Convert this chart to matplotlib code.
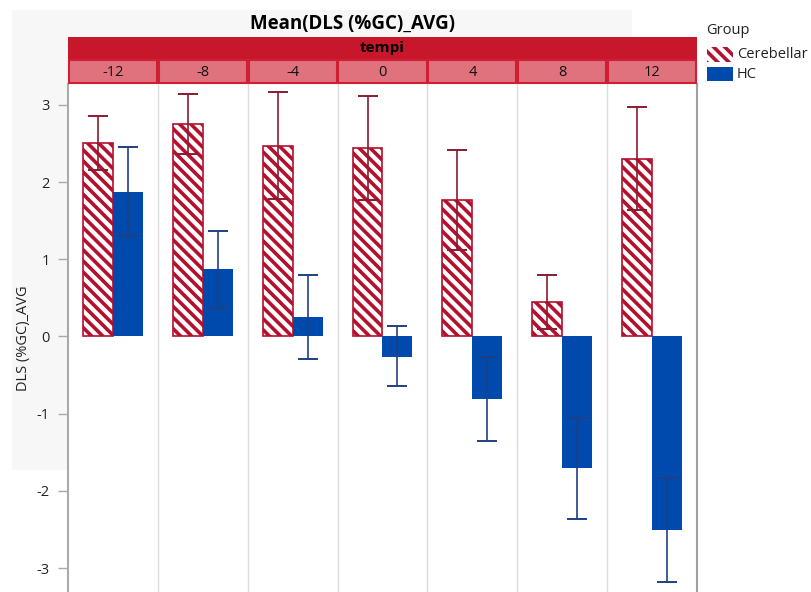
import matplotlib
matplotlib.use("Agg")
import matplotlib.pyplot as plt
from matplotlib.patches import Rectangle
import numpy as np

plt.rcParams['font.family'] = ['Open Sans', 'DejaVu Sans']
plt.rcParams['hatch.linewidth'] = 2.6

tempi = ["-12", "-8", "-4", "0", "4", "8", "12"]
groups = ["Cerebellar", "HC"]
cereb_mean = [2.51, 2.755, 2.47, 2.44, 1.77, 0.45, 2.30]
cereb_hi = [2.86, 3.14, 3.17, 3.11, 2.41, 0.80, 2.97]
cereb_lo = [2.16, 2.36, 1.78, 1.77, 1.12, 0.10, 1.64]
hc_mean = [1.87, 0.87, 0.25, -0.26, -0.81, -1.71, -2.51]
hc_hi = [2.45, 1.37, 0.80, 0.13, -0.27, -1.05, -1.83]
hc_lo = [1.30, 0.37, -0.29, -0.64, -1.35, -2.36, -3.18]
yticks = [-3, -2, -1, 0, 1, 2, 3]

W, H = 812, 592
fig = plt.figure(figsize=(W / 100, H / 100), dpi=100)

def fx(px):
    return px / W

def fy(py):
    return 1 - py / H

# light gray background panel
fig.patches.append(Rectangle((fx(12), fy(470)), fx(632) - fx(12), fy(10) - fy(470),
                             transform=fig.transFigure, facecolor="#f7f7f7",
                             edgecolor="none", zorder=-5))

axL, axR, axT, axB = 68, 697, 84, 592
ax = fig.add_axes([fx(axL), fy(axB), fx(axR) - fx(axL), fy(axT) - fy(axB)])
ax.set_zorder(1)
ax.set_facecolor("white")

red = "#b3112e"
blue = "#004aad"
n = len(tempi)
x = np.arange(n) + 0.5
w = 1 / 3
hatch = "\\\\\\"

cm = np.array(cereb_mean)
hm = np.array(hc_mean)
ax.bar(x - w / 2, cm, width=w, facecolor="white", edgecolor=red, hatch=hatch,
       linewidth=1.2, zorder=2)
ax.bar(x + w / 2, hm, width=w, facecolor=blue, edgecolor=blue, linewidth=0, zorder=2)

ax.errorbar(x - w / 2, cm, yerr=[cm - np.array(cereb_lo), np.array(cereb_hi) - cm],
            fmt="none", ecolor="#8a1a30", elinewidth=1.2, capsize=7, capthick=1.4, zorder=3)
ax.errorbar(x + w / 2, hm, yerr=[hm - np.array(hc_lo), np.array(hc_hi) - hm],
            fmt="none", ecolor="#1f3f85", elinewidth=1.2, capsize=7, capthick=1.4, zorder=3)

for i in range(1, n):
    ax.axvline(i, color="#dcdcdc", linewidth=1, zorder=1)

ax.set_xlim(0, n)
ax.set_ylim(-3.31, 3.27)
ax.set_xticks([])
ax.set_yticks(yticks)
ax.set_yticklabels([str(t) for t in yticks], fontsize=10.5, color="#222222")
ax.tick_params(axis="y", length=7, width=1, color="#aaaaaa", pad=6)
for s in ["top", "bottom"]:
    ax.spines[s].set_visible(False)
ax.spines["left"].set_color("#aaaaaa")
ax.spines["left"].set_linewidth(1.5)
ax.spines["right"].set_color("#a0a0a0")
ax.spines["right"].set_linewidth(1.5)
ax.set_ylabel("DLS (%GC)_AVG", fontsize=10.5, color="#222222", labelpad=4)

# title
fig.text(fx(352), fy(24), "Mean(DLS (%GC)_AVG)", ha="center", va="center",
         fontsize=13.5, fontweight="bold", color="black")

# header bar
fig.patches.append(Rectangle((fx(axL), fy(59)), fx(axR) - fx(axL), fy(37) - fy(59),
                             transform=fig.transFigure, facecolor="#c8172a",
                             edgecolor="none", zorder=3))
fig.text(fx((axL + axR) / 2), fy(48), "tempi", ha="center", va="center",
         fontsize=11, fontweight="bold", color="black", zorder=4)
pw = (axR - axL) / n
for i, t in enumerate(tempi):
    x0 = axL + i * pw
    fig.patches.append(Rectangle((fx(x0 + 0.8), fy(83)), fx(pw - 1.6), fy(60) - fy(83),
                                 transform=fig.transFigure, facecolor="#e0727e",
                                 edgecolor="#d01f35", linewidth=1.5, zorder=3))
    fig.text(fx(x0 + pw / 2), fy(72), t, ha="center", va="center",
             fontsize=10.5, color="#111111", zorder=4)

# legend
fig.text(fx(706), fy(30), "Group", ha="left", va="center", fontsize=10.5, color="#222222")
fig.patches.append(Rectangle((fx(707), fy(62)), fx(26), fy(47) - fy(62),
                             transform=fig.transFigure, facecolor="white",
                             edgecolor=red, hatch=hatch, linewidth=0.0, zorder=3))
fig.text(fx(737), fy(55), "Cerebellar", ha="left", va="center", fontsize=10.5, color="#222222")
fig.patches.append(Rectangle((fx(707), fy(81)), fx(26), fy(67) - fy(81),
                             transform=fig.transFigure, facecolor=blue,
                             edgecolor="none", zorder=3))
fig.text(fx(737), fy(74), "HC", ha="left", va="center", fontsize=10.5, color="#222222")

fig.savefig("out.png", dpi=100)
